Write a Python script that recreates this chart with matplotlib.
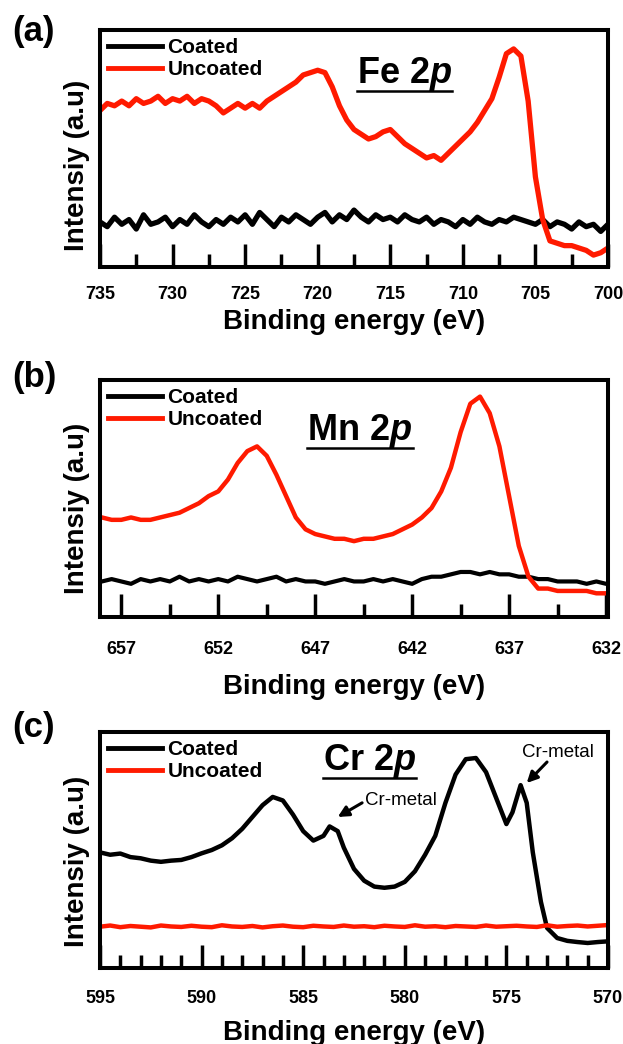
import numpy as np
import matplotlib
matplotlib.use('Agg')
import matplotlib.pyplot as plt
from matplotlib.lines import Line2D
from matplotlib.ticker import MultipleLocator

plt.rcParams['font.family'] = ['Liberation Sans', 'DejaVu Sans']
plt.rcParams['mathtext.fontset'] = 'custom'
plt.rcParams['mathtext.it'] = 'Liberation Sans:italic:bold'
plt.rcParams['mathtext.rm'] = 'Liberation Sans:bold'

# ---- (a) Fe 2p ----
fe_energy = np.arange(735, 699.9, -0.5)
fe_uncoated = [66, 69, 68, 70, 68, 71, 69, 70, 72, 69,
               71, 70, 72, 69, 71, 70, 68, 65, 67, 69,
               67, 69, 67, 70, 72, 74, 76, 78, 81, 82,
               83, 82, 76, 68, 62, 58, 56, 54, 55, 57,
               58, 55, 52, 50, 48, 46, 47, 45, 48, 51,
               54, 57, 61, 66, 71, 80, 90, 92, 89, 70,
               38, 20, 11, 10, 9, 9, 8, 7, 5, 6,
               8]
fe_coated = [19, 17, 21, 18, 20, 16, 22, 18, 19, 21,
             17, 20, 18, 22, 19, 17, 20, 18, 21, 19,
             22, 18, 23, 20, 17, 21, 19, 22, 20, 18,
             21, 23, 19, 22, 20, 24, 21, 19, 22, 20,
             21, 19, 22, 20, 19, 21, 18, 20, 19, 17,
             20, 18, 21, 19, 18, 20, 19, 21, 20, 19,
             18, 20, 17, 19, 18, 16, 19, 17, 18, 15,
             18]

# ---- (b) Mn 2p ----
mn_energy = np.arange(658, 631.9, -0.5)
mn_uncoated = [42, 41, 41, 42, 41, 41, 42, 43, 44, 46,
               48, 51, 53, 58, 65, 70, 72, 68, 60, 51,
               42, 37, 35, 34, 33, 33, 32, 33, 33, 34,
               35, 37, 39, 42, 46, 53, 63, 78, 90, 93,
               86, 72, 51, 30, 17, 12, 12, 11, 11, 11,
               11, 10, 10]
mn_coated = [15, 16, 15, 14, 16, 15, 16, 15, 17, 15,
             16, 15, 16, 15, 17, 16, 15, 16, 17, 15,
             16, 15, 15, 14, 15, 16, 15, 15, 16, 15,
             16, 15, 14, 16, 17, 17, 18, 19, 19, 18,
             19, 18, 18, 17, 17, 16, 16, 15, 15, 15,
             14, 15, 14]

# ---- (c) Cr 2p ----
cr_energy_coated = [595, 594.5, 594, 593.5, 593, 592.5, 592, 591.5, 591, 590.5,
                    590, 589.5, 589, 588.5, 588, 587.5, 587, 586.5, 586, 585.5,
                    585, 584.5, 584, 583.7, 583.3, 583, 582.5, 582, 581.5, 581,
                    580.5, 580, 579.5, 579, 578.5, 578, 577.5, 577, 576.5, 576,
                    575.5, 575, 574.7, 574.3, 574, 573.7, 573.3, 573, 572.5, 572,
                    571.5, 571, 570.5, 570]
cr_coated = [49, 48, 48.5, 47, 46.5, 45.5, 45, 45.5, 45.8, 47,
             48.6, 50, 52, 55, 59, 64, 69, 72.5, 71, 65,
             58, 54, 56, 60, 58, 51, 42, 37, 34.5, 34,
             34.5, 36.5, 41, 48, 56, 70, 82, 88.5, 89, 83,
             72, 61, 66, 77.5, 70, 49, 28, 17, 12.7, 11.5,
             11, 10.6, 11, 11.3]
cr_energy_uncoated = np.arange(595, 569.9, -0.5)
cr_uncoated = [17.5, 18, 17.3, 17.8, 17.5, 17.2, 18, 17.6, 17.4, 17.9,
               17.5, 17.3, 18.1, 17.6, 17.4, 17.8, 17.2, 17.7, 18, 17.5,
               17.3, 17.9, 17.6, 17.4, 18, 17.5, 17.7, 17.3, 17.9, 17.6,
               17.4, 18.1, 17.5, 17.7, 17.3, 17.8, 17.6, 17.4, 18, 17.5,
               17.7, 17.9, 17.6, 17.4, 18.1, 17.5, 17.8, 18, 17.6, 17.9,
               18.2]

RED = '#ff1a00'

fig = plt.figure(figsize=(6.23, 10.44), dpi=100)
left, width = 0.1605, 0.8154
ax_a = fig.add_axes([left, 0.7443, width, 0.2270])
ax_b = fig.add_axes([left, 0.4090, width, 0.2270])
ax_c = fig.add_axes([left, 0.0728, width, 0.2260])


def style(ax, xlim, minor, first_major, tickpad, labelpad, ylab_y):
    ax.set_xlim(*xlim)
    ax.set_ylim(0, 100)
    ax.xaxis.set_major_locator(MultipleLocator(5, offset=first_major % 5))
    ax.xaxis.set_minor_locator(MultipleLocator(minor, offset=first_major % minor))
    ax.set_yticks([])
    for s in ax.spines.values():
        s.set_linewidth(2.9)
    ax.tick_params(axis='x', which='major', direction='in', length=16.5, width=2.5,
                   pad=tickpad, labelsize=13)
    ax.tick_params(axis='x', which='minor', direction='in', length=9.5, width=2.5)
    for lab in ax.get_xticklabels():
        lab.set_fontweight('bold')
    ax.set_xlabel('Binding energy (eV)', fontsize=20, fontweight='bold', labelpad=labelpad)
    ax.set_ylabel('Intensiy (a.u)', fontsize=20, fontweight='bold')
    ax.yaxis.set_label_coords(-0.02, ylab_y)
    leg = ax.legend(loc='upper left', frameon=False, handlelength=2.6,
                    handletextpad=0.25, labelspacing=0.15, borderaxespad=0.1,
                    borderpad=0.28, prop={'weight': 'bold', 'size': 15})
    for h in leg.get_lines():
        h.set_linewidth(3.5)


ax_a.plot(fe_energy, fe_coated, color='black', lw=3.8, label='Coated')
ax_a.plot(fe_energy, fe_uncoated, color=RED, lw=3.8, label='Uncoated')
style(ax_a, (735, 700), 2.5, 735, 14, 4, 0.43)

ax_b.plot(mn_energy, mn_coated, color='black', lw=3, label='Coated')
ax_b.plot(mn_energy, mn_uncoated, color=RED, lw=3.2, label='Uncoated')
style(ax_b, (658.1, 631.9), 2.5, 657, 17.5, 11, 0.46)

ax_c.plot(cr_energy_coated, cr_coated, color='black', lw=3.2, label='Coated')
ax_c.plot(cr_energy_uncoated, cr_uncoated, color=RED, lw=3.2, label='Uncoated')
style(ax_c, (595, 570), 1, 595, 16, 9, 0.45)

arrow = dict(arrowstyle='-|>', color='black', lw=2.2, mutation_scale=16,
             shrinkA=0, shrinkB=0)
ax_c.text(580.2, 71.2, 'Cr-metal', fontsize=13.5, ha='center', va='center')
ax_c.annotate('', xy=(583.3, 64), xytext=(582.1, 70), arrowprops=arrow)
ax_c.text(572.45, 91.5, 'Cr-metal', fontsize=13.5, ha='center', va='center')
ax_c.annotate('', xy=(574.0, 78.4), xytext=(573.0, 87.3), arrowprops=arrow)

titles = [(ax_a, 'Fe 2$p$', 0.60, 0.776), (ax_b, 'Mn 2$p$', 0.512, 0.747),
          (ax_c, 'Cr 2$p$', 0.531, 0.839)]
title_texts = []
for ax, t, x, y in titles:
    title_texts.append(ax.text(x, y, t, transform=ax.transAxes, ha='center',
                               va='baseline', fontsize=26, fontweight='bold'))

for lbl, yc in (('(a)', 31), ('(b)', 377), ('(c)', 727)):
    fig.text(0.02, 1 - yc / 1044, lbl, fontsize=25, fontweight='bold', va='center')

# underline the element labels
fig.canvas.draw()
r = fig.canvas.get_renderer()
for txt in title_texts:
    bb = txt.get_window_extent(r).transformed(fig.transFigure.inverted())
    yl = bb.y0 + 0.002
    fig.add_artist(Line2D([bb.x0, bb.x1], [yl, yl], color='black', lw=1.8))

fig.savefig('out.png', dpi=100)
